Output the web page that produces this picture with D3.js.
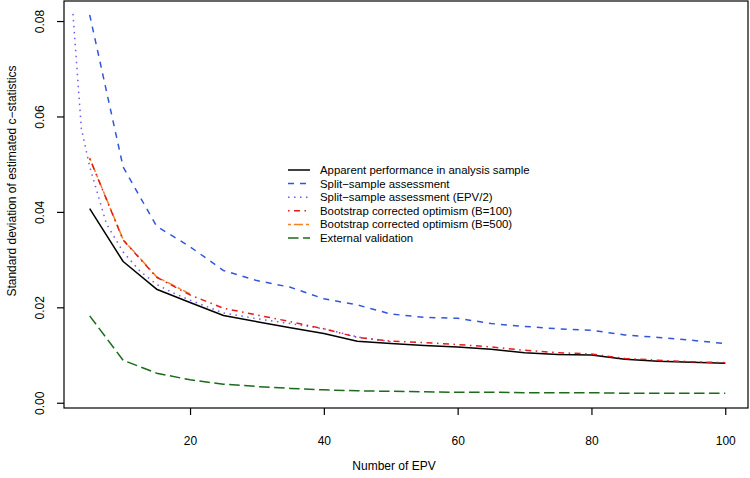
<!DOCTYPE html>
<html>
<head>
<meta charset="utf-8">
<script src="https://cdn.jsdelivr.net/npm/d3@7"></script>
<style>
  html, body { margin: 0; padding: 0; background: #fff; }
  svg { display: block; font-family: "Liberation Sans", Arial, sans-serif; }
</style>
</head>
<body>
<svg id="chart" width="750" height="478"></svg>
<script>
// ---- data ----
const epv = [5,10,15,20,25,30,35,40,45,50,55,60,65,70,75,80,85,90,95,100];
const apparent = [0.0407,0.0296,0.0238,0.0210,0.0183,0.0170,0.0157,0.0145,0.0129,0.0124,0.0120,0.0117,0.0112,0.0105,0.0101,0.0100,0.0091,0.0087,0.0085,0.0083];
const splitSample = [0.0813,0.0494,0.0370,0.0327,0.0277,0.0256,0.0242,0.0218,0.0205,0.0186,0.0179,0.0177,0.0166,0.0160,0.0155,0.0152,0.0142,0.0137,0.0131,0.0124];
const epvHalf = [2.5,3.75,5,7.5,10,12.5,15,17.5,20,25,30,35,40,45,50];
const splitHalf = [0.0815,0.0575,0.0495,0.0375,0.0316,0.0276,0.0248,0.0230,0.0215,0.0188,0.0176,0.0166,0.0155,0.0138,0.0128];
const boot100 = [0.0512,0.0341,0.0263,0.0226,0.0198,0.0184,0.0170,0.0155,0.0137,0.0129,0.0126,0.0122,0.0117,0.0110,0.0105,0.0102,0.0093,0.0089,0.0086,0.0084];
const epvB500 = [5,10,15,20];
const boot500 = [0.0513,0.0342,0.0264,0.0228];
const external = [0.0182,0.0089,0.0062,0.0048,0.0039,0.0034,0.0030,0.0027,0.0025,0.0024,0.0023,0.0022,0.0022,0.0021,0.0021,0.0021,0.0020,0.0020,0.0020,0.0020];
const xTicks = [20,40,60,80,100];
const yTicks = [0.00,0.02,0.04,0.06,0.08];
const legendLabels = [
  "Apparent performance in analysis sample",
  "Split\u2212sample assessment",
  "Split\u2212sample assessment (EPV/2)",
  "Bootstrap corrected optimism (B=100)",
  "Bootstrap corrected optimism (B=500)",
  "External validation"
];

// ---- layout ----
const L = 64, R = 748, T = 1, B = 408;
const svg = d3.select("#chart");
const x = d3.scaleLinear().domain([1.16, 103.4]).range([L, R]);
const y = d3.scaleLinear().domain([-0.0011, 0.0842]).range([B, T]);

const styles = [
  {color:"#000000", dash:null, width:1.5},
  {color:"#3355dd", dash:"6,6", width:1.5},
  {color:"#7755ee", dash:"1.5,4.5", width:1.5},
  {color:"#e41a1c", dash:"1.5,4.5,6,4.5", width:1.5},
  {color:"#f5821f", dash:"3,3,9,3", width:1.5},
  {color:"#1a6b1a", dash:"10.5,4.5", width:1.5}
];

const series = [
  {xs: epv, ys: apparent, s: styles[0]},
  {xs: epv, ys: splitSample, s: styles[1]},
  {xs: epvHalf, ys: splitHalf, s: styles[2]},
  {xs: epvB500, ys: boot500, s: styles[4]},
  {xs: epv, ys: boot100, s: styles[3]},
  {xs: epv, ys: external, s: styles[5]}
];

const line = d3.line().x(d => x(d[0])).y(d => y(d[1]));
series.forEach(sr => {
  const pts = sr.xs.map((v,i) => [v, sr.ys[i]]);
  svg.append("path")
    .attr("d", line(pts))
    .attr("fill","none")
    .attr("stroke", sr.s.color)
    .attr("stroke-width", sr.s.width)
    .attr("stroke-dasharray", sr.s.dash)
    .attr("stroke-linejoin","round");
});

// box
svg.append("rect").attr("x",L).attr("y",T).attr("width",R-L).attr("height",B-T)
  .attr("fill","none").attr("stroke","#000").attr("stroke-width",1.2);

// x axis
const xAxis = svg.append("g").attr("transform",`translate(0,${B})`)
  .call(d3.axisBottom(x).tickValues(xTicks).tickSize(7).tickPadding(21).tickFormat(d3.format("d")));
xAxis.select(".domain").remove();
xAxis.selectAll("line").attr("stroke","#000").attr("stroke-width",1.2);
xAxis.selectAll("text").attr("font-size",12).attr("fill","#000")
  .attr("font-family","Liberation Sans, Arial, sans-serif");

// y axis
const yAxis = svg.append("g").attr("transform",`translate(${L},0)`)
  .call(d3.axisLeft(y).tickValues(yTicks).tickSize(7).tickFormat(d3.format(".2f")));
yAxis.select(".domain").remove();
yAxis.selectAll("line").attr("stroke","#000").attr("stroke-width",1.2);
yAxis.selectAll("text")
  .attr("font-size",12).attr("fill","#000")
  .attr("font-family","Liberation Sans, Arial, sans-serif")
  .attr("x",null).attr("dy",null)
  .attr("text-anchor","middle")
  .attr("transform","translate(-20,0) rotate(-90)");

// axis titles
svg.append("text").attr("x", (L+R)/2 - 12).attr("y", 470)
  .attr("text-anchor","middle").attr("font-size",12).text("Number of EPV");
svg.append("text")
  .attr("transform","translate(16,181) rotate(-90)")
  .attr("text-anchor","middle").attr("font-size",12)
  .text("Standard deviation of estimated c\u2212statistics");

// legend
const legendStyles = [styles[0],styles[1],styles[2],styles[3],styles[4],styles[5]];
const lg = svg.append("g");
legendLabels.forEach((lab,i) => {
  const yy = 170 + i*13.6;
  const st = legendStyles[i];
  lg.append("line").attr("x1",288).attr("x2",310).attr("y1",yy).attr("y2",yy)
    .attr("stroke",st.color).attr("stroke-width",st.width)
    .attr("stroke-dasharray",st.dash);
  lg.append("text").attr("x",320).attr("y",yy).attr("dy","0.35em")
    .attr("font-size",11.4).attr("fill","#000").text(lab);
});
</script>
</body>
</html>
